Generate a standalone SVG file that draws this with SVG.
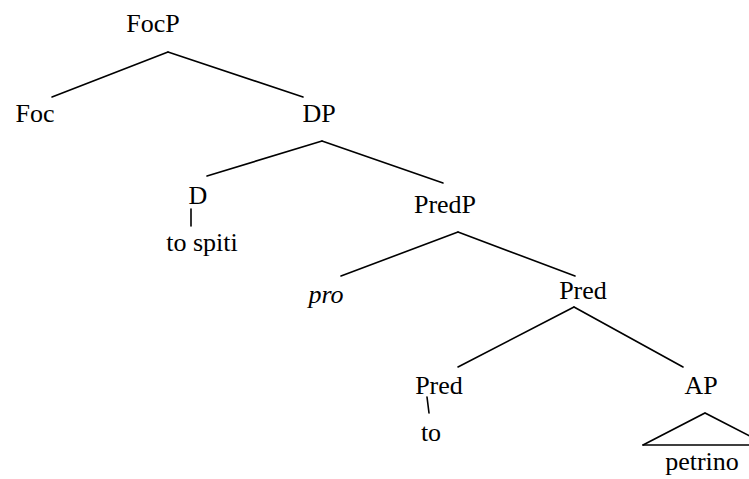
<svg xmlns="http://www.w3.org/2000/svg" width="749" height="479" viewBox="0 0 749 479">
<style>
text{font-family:"Liberation Serif","Times New Roman",serif;font-size:26px;fill:#000;text-anchor:middle}
.it{font-style:italic}
.e{stroke:#000;stroke-width:1.6;fill:none;stroke-linecap:round}
</style>
<rect width="749" height="479" fill="#fff"/>
<g id="connectors">
<line class="e" x1="168" y1="52" x2="52" y2="97"/>
<line class="e" x1="168" y1="52" x2="303" y2="97"/>
<line class="e" x1="322" y1="141" x2="207" y2="176"/>
<line class="e" x1="322" y1="141" x2="443" y2="183"/>
<line class="e" x1="191" y1="209" x2="191" y2="226"/>
<line class="e" x1="458" y1="232" x2="341" y2="276"/>
<line class="e" x1="458" y1="232" x2="575" y2="276"/>
<line class="e" x1="574" y1="307" x2="458" y2="367"/>
<line class="e" x1="574" y1="307" x2="683" y2="367"/>
<line class="e" x1="427" y1="397" x2="429" y2="413"/>
<polyline class="e" points="643,445 705,413 767,445"/>
<line class="e" x1="643" y1="445" x2="767" y2="445"/>
</g>
<g id="n-FocP"><text x="153" y="32">FocP</text></g>
<g id="n-Foc"><text x="35" y="122">Foc</text></g>
<g id="n-DP"><text x="319" y="122">DP</text></g>
<g id="n-D"><text x="198" y="204">D</text></g>
<g id="n-tospiti"><text x="202" y="251">to spiti</text></g>
<g id="n-PredP"><text x="445" y="213">PredP</text></g>
<g id="n-pro"><text class="it" x="326" y="303">pro</text></g>
<g id="n-Pred1"><text x="583" y="299">Pred</text></g>
<g id="n-Pred2"><text x="439" y="394">Pred</text></g>
<g id="n-AP"><text x="701" y="394">AP</text></g>
<g id="n-to"><text x="431" y="441">to</text></g>
<g id="n-petrino"><text x="702" y="470">petrino</text></g>
</svg>
